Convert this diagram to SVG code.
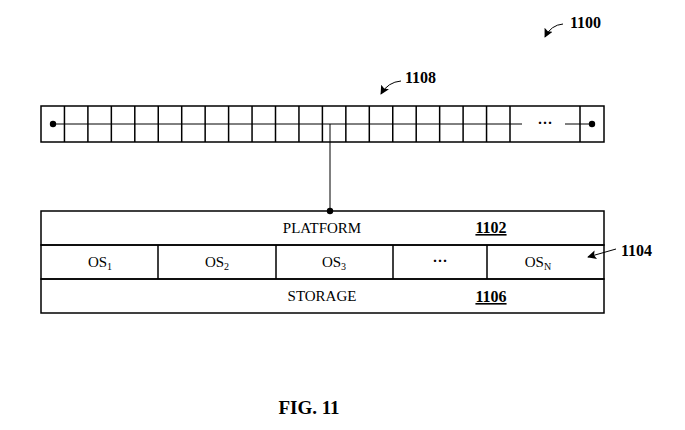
<svg xmlns="http://www.w3.org/2000/svg" width="685" height="430" viewBox="0 0 685 430">
<style>
.box{fill:none;stroke:#000;stroke-width:1.5}
.thin{fill:none;stroke:#000;stroke-width:1}
.t{font-family:"Liberation Serif","Times New Roman",serif;font-size:15px;fill:#000}
.sub{font-size:10px}
.ref{font-family:"Liberation Serif","Times New Roman",serif;font-size:16px;font-weight:bold;fill:#000}
.u{text-decoration:underline}
</style>
<defs>
<marker id="ah" viewBox="0 0 10 10" refX="9" refY="5" markerWidth="9" markerHeight="9" markerUnits="userSpaceOnUse" orient="auto">
<path d="M0,0 L10,5 L0,10 L2,5 Z" fill="#000"/>
</marker>
</defs>
<rect width="685" height="430" fill="#fff"/>

<g id="n1108">
<rect class="box" x="41" y="106" width="563" height="36"/>
<path class="box" d="M64.45,106V142M87.9,106V142M111.35,106V142M134.8,106V142M158.25,106V142M181.7,106V142M205.15,106V142M228.6,106V142M252.05,106V142M275.5,106V142M298.95,106V142M322.4,106V142M345.85,106V142M369.3,106V142M392.75,106V142M416.2,106V142M439.65,106V142M463.1,106V142M486.55,106V142M510,106V142M580,106V142"/>
<path class="thin" d="M53,124H522M565,124H592"/>
<circle cx="53" cy="124" r="3.2" fill="#000"/>
<circle cx="592" cy="124" r="3.2" fill="#000"/>
<text class="t" x="545" y="128" text-anchor="middle" style="font-weight:bold">···</text>
</g>

<g id="n1102">
<rect class="box" x="41" y="211" width="563" height="34"/>
<text class="t" x="322" y="233" text-anchor="middle">PLATFORM</text>
<text class="ref u" x="491" y="233" text-anchor="middle">1102</text>
</g>

<g id="n1104">
<rect class="box" x="41" y="245" width="563" height="34"/>
<path class="box" d="M158,245V279M276,245V279M393,245V279M487,245V279"/>
<text class="t" x="100" y="267" text-anchor="middle">OS<tspan class="sub" dy="3">1</tspan></text>
<text class="t" x="217" y="267" text-anchor="middle">OS<tspan class="sub" dy="3">2</tspan></text>
<text class="t" x="334" y="267" text-anchor="middle">OS<tspan class="sub" dy="3">3</tspan></text>
<text class="t" x="440" y="266" text-anchor="middle" style="font-weight:bold">···</text>
<text class="t" x="538" y="267" text-anchor="middle">OS<tspan class="sub" dy="3">N</tspan></text>
</g>

<g id="n1106">
<rect class="box" x="41" y="279" width="563" height="34"/>
<text class="t" x="322" y="301" text-anchor="middle">STORAGE</text>
<text class="ref u" x="491" y="302" text-anchor="middle">1106</text>
</g>

<g id="connectors">
<path class="thin" d="M330,124V211"/>
<circle cx="330" cy="211" r="3.2" fill="#000"/>
<path class="thin" d="M616,249 L588,257" marker-end="url(#ah)"/>
<path class="thin" d="M401,81 Q388,82 381,94" marker-end="url(#ah)"/>
<path class="thin" d="M563,24 Q551,25 545,37" marker-end="url(#ah)"/>
</g>

<g id="labels">
<text class="ref" x="405" y="83">1108</text>
<text class="ref" x="570" y="28">1100</text>
<text class="ref" x="621" y="256">1104</text>
<text class="ref" x="309" y="414" text-anchor="middle" style="font-size:19px">FIG. 11</text>
</g>
</svg>
